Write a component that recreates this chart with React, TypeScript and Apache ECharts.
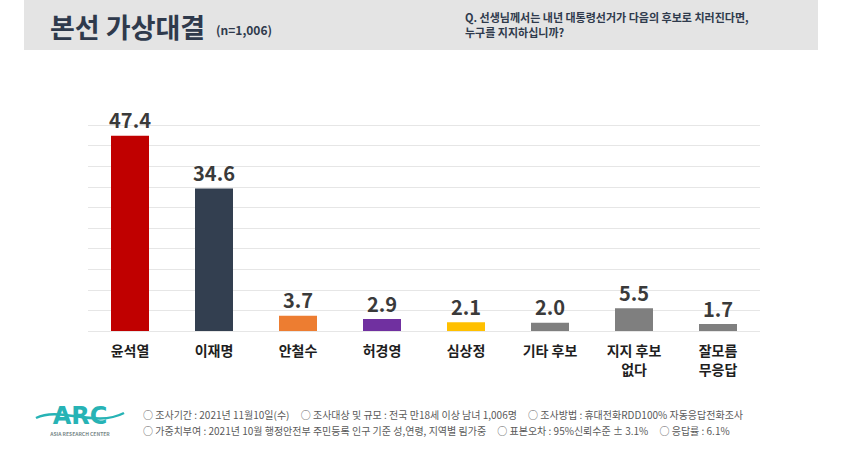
import React, { useEffect, useRef } from "react";
import * as echarts from "echarts";

const categories = ["윤석열", "이재명", "안철수", "허경영", "심상정", "기타 후보", "지지 후보\n없다", "잘모름\n무응답"];
const values = [47.4, 34.6, 3.7, 2.9, 2.1, 2.0, 5.5, 1.7];
const barColors = ["#c00000", "#333f50", "#ed7d31", "#7030a0", "#ffc000", "#7f7f7f", "#7f7f7f", "#7f7f7f"];
const titleText = "본선 가상대결";
const sampleText = "(n=1,006)";
const questionLines = ["Q. 선생님께서는 내년 대통령선거가 다음의 후보로 치러진다면,", "누구를 지지하십니까?"];
const footerLines = [
  "○ 조사기간 : 2021년 11월10일(수)     ○ 조사대상 및 규모 : 전국 만18세 이상 남녀 1,006명     ○ 조사방법 : 휴대전화RDD100% 자동응답전화조사",
  "○ 가중치부여 : 2021년 10월 행정안전부 주민등록 인구 기준 성,연령, 지역별 림가중     ○ 표본오차 : 95%신뢰수준 ± 3.1%     ○ 응답률 : 6.1%",
];

const FONT = "'Noto Sans CJK KR', 'Noto Sans', sans-serif";

export default function App() {
  const ref = useRef<HTMLDivElement>(null);
  useEffect(() => {
    document.body.style.margin = "0";
    if (!ref.current) return;
    const chart = echarts.init(ref.current, null, { renderer: "svg" });
    chart.setOption({
      animation: false,
      backgroundColor: "#ffffff",
      grid: { left: 88, width: 672, top: 125, height: 206 },
      xAxis: {
        type: "category",
        data: categories,
        axisLine: { show: false },
        axisTick: { show: false },
        axisLabel: {
          color: "#1e1e1e",
          fontSize: 14,
          fontWeight: "bold",
          fontFamily: FONT,
          lineHeight: 19,
          margin: 9,
          interval: 0,
        },
      },
      yAxis: {
        type: "value",
        min: 0,
        max: 50,
        interval: 5,
        axisLabel: { show: false },
        axisLine: { show: false },
        axisTick: { show: false },
        splitLine: { lineStyle: { color: "#e6e6e6", width: 1 } },
      },
      series: [
        {
          type: "bar",
          barWidth: 38,
          data: values.map((v, i) => ({ value: v, itemStyle: { color: barColors[i] } })),
          label: {
            show: true,
            position: "top",
            distance: 6,
            formatter: (p: any) => Number(p.value).toFixed(1),
            color: "#3a3a3a",
            fontSize: 20,
            fontWeight: "bold",
            fontFamily: FONT,
          },
        },
      ],
      graphic: [
        { type: "rect", shape: { x: 24, y: 0, width: 794, height: 50 }, style: { fill: "#e4e4e4" }, z: -1 },
        {
          type: "text",
          x: 50,
          y: 26,
          style: { text: titleText, font: `bold 27px ${FONT}`, fill: "#2f3a4c", verticalAlign: "middle" },
        },
        {
          type: "text",
          x: 216,
          y: 29,
          style: { text: sampleText, font: `bold 12px ${FONT}`, fill: "#2f3a4c", verticalAlign: "middle" },
        },
        {
          type: "text",
          x: 465,
          y: 17,
          style: { text: questionLines[0], font: `bold 11px ${FONT}`, fill: "#2f3a4c", verticalAlign: "middle" },
        },
        {
          type: "text",
          x: 465,
          y: 32,
          style: { text: questionLines[1], font: `bold 11px ${FONT}`, fill: "#2f3a4c", verticalAlign: "middle" },
        },
        {
          type: "text",
          x: 80,
          y: 416,
          style: { text: "ARC", font: `bold 24px 'DejaVu Sans', sans-serif`, fill: "#27b3b5", align: "center", verticalAlign: "middle" },
        },
        {
          type: "bezierCurve",
          shape: { x1: 36, y1: 418, x2: 124, y2: 413, cpx1: 60, cpy1: 406, cpx2: 95, cpy2: 428 },
          style: { stroke: "#27b3b5", lineWidth: 2.5, fill: "none" },
        },
        {
          type: "text",
          x: 80,
          y: 433,
          style: { text: "ASIA RESEARCH CENTER", font: `bold 5px ${FONT}`, fill: "#7a8a8a", align: "center", verticalAlign: "middle" },
        },
        {
          type: "text",
          x: 143,
          y: 414,
          style: { text: footerLines[0], font: `10px ${FONT}`, fill: "#5a5a5a", verticalAlign: "middle" },
        },
        {
          type: "text",
          x: 143,
          y: 430,
          style: { text: footerLines[1], font: `10px ${FONT}`, fill: "#5a5a5a", verticalAlign: "middle" },
        },
      ],
    });
    return () => chart.dispose();
  }, []);
  return <div ref={ref} style={{ width: 850, height: 473 }} />;
}
